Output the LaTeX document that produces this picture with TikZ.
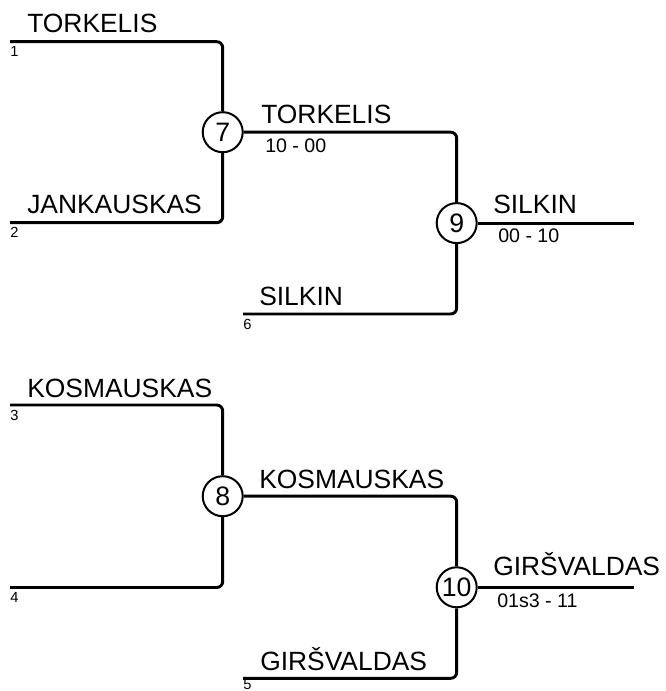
\documentclass[tikz,border=0pt]{standalone}
\usepackage{fontspec}
\setmainfont{Liberation Sans}
\usepackage{tikz}
\tikzset{
	match/.style={circle,draw,line width=1.5pt,minimum size=30pt,inner sep=0pt,font=\fontsize{20}{20}\selectfont},
	wire/.style={line width=2.2pt,rounded corners=4.5pt},
	player/.style={anchor=base west,inner sep=0pt,font=\fontsize{19.8}{20}\selectfont},
	result/.style={anchor=base west,inner sep=0pt,font=\fontsize{14.7}{15}\selectfont},
	seedno/.style={anchor=north west,inner sep=0pt,font=\fontsize{11}{11}\selectfont}
}

\begin{document}
\begin{tikzpicture}[x=0.75pt,y=-0.75pt]
	\useasboundingbox (0,0) rectangle (666,691);
	%first round entries
	\foreach \n/\y in {1/41.7, 2/222.7, 3/405, 4/587.5}{
		\coordinate (s\n) at (10,\y);
		\node[seedno] (seed\n) at (10,\y+4.5) {\n};
	}
	\coordinate (s6) at (243,314);
	\coordinate (s5) at (243,678.3);
	\node[seedno] (seed6) at (243,318.5) {6};
	\node[seedno] (seed5) at (243,679.6) {5};
	%matches
	\node[match] (m7) at (222.7,132.2) {7};
	\node[match] (m8) at (222.7,496.2) {8};
	\node[match] (m9) at (456.7,223.1) {9};
	\node[match] (m10) at (456.7,587.3) {10};
	\coordinate (w9) at (634,223.1);
	\coordinate (w10) at (634,587.3);
	%wires
	\draw[wire] (s1) -| (m7);
	\draw[wire] (s2) -| (m7);
	\draw[wire] (m7) -| (m9);
	\draw[wire] (s6) -| (m9);
	\draw[wire] (m9) -- (w9);
	\draw[wire] (s3) -| (m8);
	\draw[wire] (s4) -| (m8);
	\draw[wire] (m8) -| (m10);
	\draw[wire] (s5) -| (m10);
	\draw[wire] (m10) -- (w10);
	%names and scores
	\node[player] (n1) at (27,33) {TORKELIS};
	\node[player] (n2) at (27,213.5) {JANKAUSKAS};
	\node[player] (n7) at (261,124) {TORKELIS};
	\node[result] (sc7) at (265,153) {10 - 00};
	\node[player] (n6) at (259,305) {SILKIN};
	\node[player] (n9) at (493,213.5) {SILKIN};
	\node[result] (sc9) at (498,243) {00 - 10};
	%second bracket
	\node[player] (n3) at (27,397) {KOSMAUSKAS};
	\node[player] (n8) at (259,488) {KOSMAUSKAS};
	\node[player] (n5) at (260,670) {GIRŠVALDAS};
	\node[player] (n10) at (493,575.5) {GIRŠVALDAS};
	\node[result] (sc10) at (497,607) {01s3 - 11};
\end{tikzpicture}
\end{document}
